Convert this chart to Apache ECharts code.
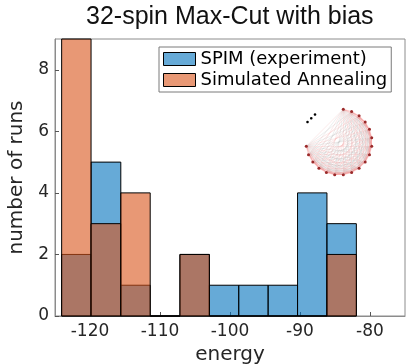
<!DOCTYPE html>
<html>
<head>
<meta charset="utf-8">
<script src="https://cdn.jsdelivr.net/npm/echarts@6/dist/echarts.min.js"></script>
<style>
  html, body { margin: 0; padding: 0; background: #fff; }
  #chart { width: 406px; height: 364px; }
</style>
</head>
<body>
<div id="chart"></div>
<script>
// histogram bin edges (energy) and counts per bin
const binEdges = [-124.05, -119.85, -115.6, -111.4, -107.15, -102.95, -98.75, -94.55, -90.35, -86.15, -81.95];
const spimCounts = [2, 5, 1, 0, 2, 1, 1, 1, 4, 3];
const saCounts = [9, 3, 4, 0, 2, 0, 0, 0, 0, 2];
const xTicks = [-120, -110, -100, -90, -80];
const yTicks = [0, 2, 4, 6, 8];
const seriesNames = ['SPIM (experiment)', 'Simulated Annealing'];

// inset graph: nodes around a circle, a few left out (the "..." gap)
const insetNodeCount = 24;
const insetHidden = [12, 13, 14, 15, 16, 17];

const blue = 'rgba(0,114,189,0.6)';
const orange = 'rgba(217,83,25,0.6)';
const axisGray = '#8c8c8c';
const textDark = '#262626';

function binData(counts) {
  return counts.map((c, i) => [binEdges[i], binEdges[i + 1], c]);
}

function barRenderer(fill) {
  return function (params, api) {
    const p0 = api.coord([api.value(0), api.value(2)]);
    const p1 = api.coord([api.value(1), 0]);
    return {
      type: 'rect',
      shape: { x: p0[0], y: p0[1], width: p1[0] - p0[0], height: p1[1] - p0[1] },
      style: { fill: fill, stroke: '#000', lineWidth: 1 }
    };
  };
}

// build inset nodes / links
const nodes = [];
for (let i = 0; i < insetNodeCount; i++) {
  const hidden = insetHidden.indexOf(i) >= 0;
  nodes.push({ id: 'n' + i, itemStyle: { opacity: hidden ? 0 : 1 } });
}
const links = [];
for (let i = 0; i < insetNodeCount; i++) {
  if (insetHidden.indexOf(i) >= 0) continue;
  for (let j = i + 1; j < insetNodeCount; j++) {
    if (insetHidden.indexOf(j) >= 0) continue;
    const d = Math.min(j - i, insetNodeCount - (j - i));
    links.push({
      source: 'n' + i, target: 'n' + j,
      lineStyle: d <= 3 ? { color: '#f07070', opacity: 0.6 } : (d % 2 ? { color: '#f0a0a0', opacity: 0.45 } : { color: '#b4b4b4', opacity: 0.45 })
    });
  }
}

const chart = echarts.init(document.getElementById('chart'), null, { renderer: 'canvas' });

const option = {
  animation: false,
  backgroundColor: '#fff',
  title: {
    text: '32-spin Max-Cut with bias',
    left: 86,
    top: 5,
    padding: 0,
    textStyle: { fontFamily: '"Liberation Sans", Arial, sans-serif', fontSize: 25, fontWeight: 'normal', color: '#111' }
  },
  grid: {
    left: 55, right: 1, top: 39, bottom: 48,
    outerBoundsMode: 'none',
    containLabel: false,
    show: true, borderColor: axisGray, borderWidth: 1
  },
  legend: {
    orient: 'vertical',
    left: 159, top: 47,
    padding: [3, 4, 3, 4],
    itemWidth: 32, itemHeight: 13, itemGap: 3,
    backgroundColor: '#fff',
    borderColor: '#7a7a7a', borderWidth: 1,
    borderRadius: 0,
    textStyle: { fontFamily: '"DejaVu Sans", sans-serif', fontSize: 18, color: '#000', lineHeight: 18 },
    data: [
      { name: seriesNames[0], icon: 'rect', itemStyle: { color: blue, borderColor: '#000', borderWidth: 1 } },
      { name: seriesNames[1], icon: 'rect', itemStyle: { color: orange, borderColor: '#000', borderWidth: 1 } }
    ]
  },
  xAxis: {
    type: 'value',
    min: -125, max: -75,
    name: 'energy',
    nameLocation: 'middle',
    nameGap: 22,
    nameTextStyle: { fontFamily: '"DejaVu Sans", sans-serif', fontSize: 20, color: textDark },
    axisLine: { show: true, lineStyle: { color: axisGray } },
    axisTick: { show: true, inside: true, length: 4, customValues: xTicks, lineStyle: { color: '#555' } },
    axisLabel: { customValues: xTicks, margin: 7, fontFamily: '"DejaVu Sans", sans-serif', fontSize: 17, color: textDark },
    splitLine: { show: false }
  },
  yAxis: {
    type: 'value',
    min: 0, max: 9,
    name: 'number of runs',
    nameLocation: 'middle',
    nameGap: 25,
    nameTextStyle: { fontFamily: '"DejaVu Sans", sans-serif', fontSize: 20, color: textDark },
    axisLine: { show: true, lineStyle: { color: axisGray } },
    axisTick: { show: true, inside: true, length: 4, customValues: yTicks, lineStyle: { color: '#555' } },
    axisLabel: { customValues: yTicks, margin: 6, fontFamily: '"DejaVu Sans", sans-serif', fontSize: 17, color: textDark },
    splitLine: { show: false }
  },
  graphic: [
    {
      type: 'text', x: 312, y: 119, rotation: Math.PI / 4, z: 10,
      style: { text: '•••', fontSize: 9, fontFamily: '"DejaVu Sans", sans-serif', fill: '#000', align: 'center', verticalAlign: 'middle' }
    }
  ],
  series: [
    {
      name: seriesNames[0],
      type: 'custom',
      renderItem: barRenderer(blue),
      itemStyle: { color: blue },
      encode: { x: [0, 1], y: 2 },
      data: binData(spimCounts),
      z: 2
    },
    {
      name: seriesNames[1],
      type: 'custom',
      renderItem: barRenderer(orange),
      itemStyle: { color: orange },
      encode: { x: [0, 1], y: 2 },
      data: binData(saCounts),
      z: 3
    },
    {
      type: 'graph',
      layout: 'circular',
      left: 306, top: 109, width: 66, height: 66,
      silent: true,
      roam: false,
      symbolSize: 3,
      itemStyle: { color: '#9b2a2a' },
      label: { show: false },
      lineStyle: { width: 0.5 },
      data: nodes,
      links: links,
      z: 1
    }
  ]
};

chart.setOption(option);
</script>
</body>
</html>
